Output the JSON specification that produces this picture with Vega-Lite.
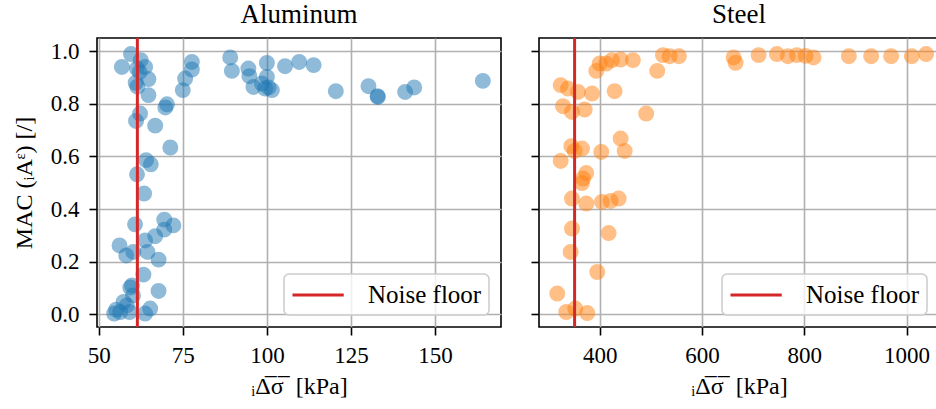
{
  "$schema": "https://vega.github.io/schema/vega-lite/v6.json",
  "padding": {"left": 11, "top": -1, "right": 0, "bottom": 0},
  "background": "white",
  "datasets": {
    "alu": [
      {"stress": 59.6, "mac": 0.989}, {"stress": 56.9, "mac": 0.940}, {"stress": 62.5, "mac": 0.966}, {"stress": 61.4, "mac": 0.934},
      {"stress": 63.8, "mac": 0.940}, {"stress": 62.2, "mac": 0.920}, {"stress": 64.8, "mac": 0.894}, {"stress": 61.0, "mac": 0.880},
      {"stress": 61.5, "mac": 0.865}, {"stress": 64.8, "mac": 0.833}, {"stress": 70.3, "mac": 0.798}, {"stress": 69.8, "mac": 0.786},
      {"stress": 62.3, "mac": 0.763}, {"stress": 61.1, "mac": 0.735}, {"stress": 66.8, "mac": 0.717}, {"stress": 71.3, "mac": 0.634},
      {"stress": 64.1, "mac": 0.586}, {"stress": 65.5, "mac": 0.570}, {"stress": 61.4, "mac": 0.532}, {"stress": 75.0, "mac": 0.852},
      {"stress": 75.7, "mac": 0.896}, {"stress": 77.7, "mac": 0.959}, {"stress": 77.7, "mac": 0.930}, {"stress": 89.1, "mac": 0.976},
      {"stress": 89.6, "mac": 0.925}, {"stress": 94.5, "mac": 0.934}, {"stress": 94.8, "mac": 0.905}, {"stress": 96.0, "mac": 0.864},
      {"stress": 98.5, "mac": 0.877}, {"stress": 100.0, "mac": 0.955}, {"stress": 100.0, "mac": 0.902}, {"stress": 99.5, "mac": 0.858},
      {"stress": 101.5, "mac": 0.852}, {"stress": 100.5, "mac": 0.862}, {"stress": 105.4, "mac": 0.943}, {"stress": 109.6, "mac": 0.959},
      {"stress": 113.9, "mac": 0.947}, {"stress": 120.5, "mac": 0.848}, {"stress": 130.2, "mac": 0.867}, {"stress": 132.9, "mac": 0.829},
      {"stress": 133.0, "mac": 0.826}, {"stress": 141.1, "mac": 0.845}, {"stress": 143.8, "mac": 0.862}, {"stress": 164.2, "mac": 0.887},
      {"stress": 63.5, "mac": 0.459}, {"stress": 60.8, "mac": 0.342}, {"stress": 69.5, "mac": 0.360}, {"stress": 72.2, "mac": 0.338},
      {"stress": 69.5, "mac": 0.322}, {"stress": 66.8, "mac": 0.297}, {"stress": 63.8, "mac": 0.281}, {"stress": 56.2, "mac": 0.262},
      {"stress": 58.2, "mac": 0.224}, {"stress": 60.3, "mac": 0.237}, {"stress": 64.5, "mac": 0.237}, {"stress": 67.8, "mac": 0.208},
      {"stress": 63.3, "mac": 0.151}, {"stress": 59.9, "mac": 0.110}, {"stress": 59.4, "mac": 0.102}, {"stress": 60.2, "mac": 0.072},
      {"stress": 67.8, "mac": 0.089}, {"stress": 57.4, "mac": 0.047}, {"stress": 58.4, "mac": 0.034}, {"stress": 54.6, "mac": 0.003},
      {"stress": 56.4, "mac": 0.009}, {"stress": 59.2, "mac": 0.009}, {"stress": 63.8, "mac": 0.003}, {"stress": 65.3, "mac": 0.022},
      {"stress": 55.2, "mac": 0.018}
    ],
    "steel": [
      {"stress": 323.8, "mac": 0.871}, {"stress": 338.0, "mac": 0.858}, {"stress": 357.6, "mac": 0.845}, {"stress": 385.0, "mac": 0.839},
      {"stress": 429.3, "mac": 0.848}, {"stress": 328.3, "mac": 0.791}, {"stress": 345.9, "mac": 0.769}, {"stress": 370.7, "mac": 0.778},
      {"stress": 393.4, "mac": 0.925}, {"stress": 400.0, "mac": 0.953}, {"stress": 413.0, "mac": 0.953}, {"stress": 424.0, "mac": 0.966},
      {"stress": 441.0, "mac": 0.968}, {"stress": 465.0, "mac": 0.966}, {"stress": 512.6, "mac": 0.925}, {"stress": 523.7, "mac": 0.985},
      {"stress": 536.8, "mac": 0.981}, {"stress": 555.0, "mac": 0.981}, {"stress": 491.0, "mac": 0.763}, {"stress": 344.5, "mac": 0.639},
      {"stress": 365.4, "mac": 0.630}, {"stress": 351.1, "mac": 0.621}, {"stress": 323.8, "mac": 0.583}, {"stress": 403.1, "mac": 0.617},
      {"stress": 441.0, "mac": 0.668}, {"stress": 448.9, "mac": 0.621}, {"stress": 373.8, "mac": 0.537}, {"stress": 367.4, "mac": 0.516},
      {"stress": 365.4, "mac": 0.499}, {"stress": 345.9, "mac": 0.440}, {"stress": 373.8, "mac": 0.421}, {"stress": 404.5, "mac": 0.427},
      {"stress": 421.5, "mac": 0.431}, {"stress": 437.1, "mac": 0.440}, {"stress": 345.9, "mac": 0.326}, {"stress": 417.6, "mac": 0.309},
      {"stress": 343.3, "mac": 0.237}, {"stress": 395.3, "mac": 0.161}, {"stress": 317.1, "mac": 0.079}, {"stress": 334.7, "mac": 0.009},
      {"stress": 352.3, "mac": 0.022}, {"stress": 375.8, "mac": 0.005}, {"stress": 661.9, "mac": 0.976}, {"stress": 665.8, "mac": 0.956},
      {"stress": 710.7, "mac": 0.985}, {"stress": 746.5, "mac": 0.989}, {"stress": 768.0, "mac": 0.981}, {"stress": 785.6, "mac": 0.985},
      {"stress": 802.6, "mac": 0.982}, {"stress": 818.2, "mac": 0.976}, {"stress": 887.2, "mac": 0.981}, {"stress": 930.8, "mac": 0.981},
      {"stress": 969.9, "mac": 0.981}, {"stress": 1010.3, "mac": 0.981}, {"stress": 1038.3, "mac": 0.989}
    ],
    "noiseAlu": [{"stress": 61.5, "label": "Noise floor"}],
    "noiseSteel": [{"stress": 351, "label": "Noise floor"}]
  },
  "spacing": 27,
  "hconcat": [
    {
      "title": {"text": "Aluminum"},
      "width": 404,
      "height": 289,
      "layer": [
        {
          "data": {"name": "alu"},
          "mark": {"type": "circle", "size": 254, "color": "#1f77b4", "opacity": 0.5},
          "encoding": {
            "x": {"field": "stress", "type": "quantitative", "scale": {"domain": [49.5, 169.6], "nice": false, "zero": false},
                  "axis": {"values": [50, 75, 100, 125, 150], "format": "d", "title": "ᵢΔ̅σ̅\u00a0 [kPa]"}},
            "y": {"field": "mac", "type": "quantitative", "scale": {"domain": [-0.048, 1.05], "nice": false, "zero": false},
                  "axis": {"values": [0, 0.2, 0.4, 0.6, 0.8, 1.0], "format": ".1f", "title": "MAC (ᵢAᵋ) [/]"}}
          }
        },
        {
          "data": {"name": "noiseAlu"},
          "mark": {"type": "rule", "strokeWidth": 3},
          "encoding": {
            "x": {"field": "stress", "type": "quantitative"},
            "color": {"field": "label", "type": "nominal", "scale": {"range": ["#d62728"]}, "legend": {"title": null, "orient": "bottom-right"}}
          }
        }
      ]
    },
    {
      "title": {"text": "Steel"},
      "width": 400,
      "height": 289,
      "layer": [
        {
          "data": {"name": "steel"},
          "mark": {"type": "circle", "size": 254, "color": "#ff7f0e", "opacity": 0.5},
          "encoding": {
            "x": {"field": "stress", "type": "quantitative", "scale": {"domain": [281.4, 1063.5], "nice": false, "zero": false},
                  "axis": {"values": [400, 600, 800, 1000], "format": "d", "title": "ᵢΔ̅σ̅\u00a0 [kPa]"}},
            "y": {"field": "mac", "type": "quantitative", "scale": {"domain": [-0.048, 1.05], "nice": false, "zero": false},
                  "axis": {"values": [0, 0.2, 0.4, 0.6, 0.8, 1.0], "labels": false, "title": null}}
          }
        },
        {
          "data": {"name": "noiseSteel"},
          "mark": {"type": "rule", "strokeWidth": 3},
          "encoding": {
            "x": {"field": "stress", "type": "quantitative"},
            "color": {"field": "label", "type": "nominal", "scale": {"range": ["#d62728"]}, "legend": {"title": null, "orient": "bottom-right"}}
          }
        }
      ]
    }
  ],
  "resolve": {"scale": {"x": "independent", "y": "independent", "color": "independent"}, "legend": {"color": "independent"}},
  "config": {
    "font": "Liberation Serif",
    "view": {"stroke": "black", "strokeWidth": 1.6},
    "title": {"font": "Liberation Serif", "fontSize": 27, "fontWeight": "normal", "color": "black", "baseline": "alphabetic", "offset": 8, "anchor": "middle"},
    "axis": {
      "labelFont": "Liberation Serif", "labelFontSize": 23, "labelColor": "black",
      "titleFont": "Liberation Serif", "titleFontSize": 24, "titleFontWeight": "normal", "titleColor": "black",
      "domain": false, "tickColor": "black", "tickWidth": 1.6, "tickSize": 8,
      "grid": true, "gridColor": "#b0b0b0", "gridWidth": 1.6, "labelPadding": 10
    },
    "axisX": {"labelPadding": 9, "titlePadding": 7},
    "axisY": {"titlePadding": 14},
    "legend": {
      "offset": 12, "padding": 7, "cornerRadius": 5, "fillColor": "rgba(255,255,255,0.8)", "strokeColor": "#cccccc", "strokeWidth": 1.5,
      "symbolType": "M-1,0H3.1", "symbolSize": 625, "symbolStrokeWidth": 3,
      "labelFont": "Liberation Serif", "labelFontSize": 25, "labelColor": "black", "labelOffset": 49
    }
  }
}
